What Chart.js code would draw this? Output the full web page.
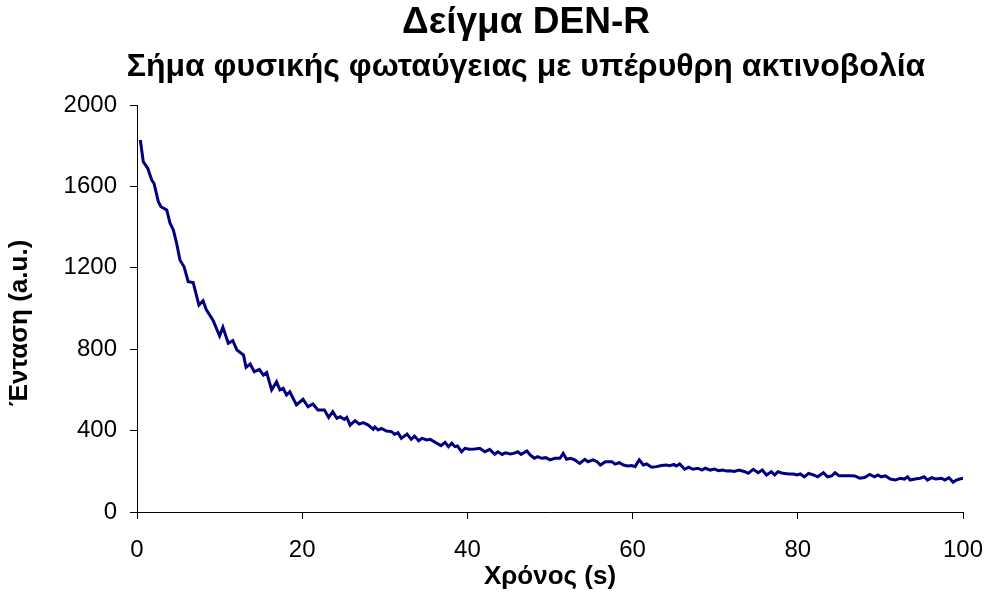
<!DOCTYPE html>
<html>
<head>
<meta charset="utf-8">
<script src="https://cdn.jsdelivr.net/npm/chart.js@4.4.1/dist/chart.umd.min.js"></script>
<style>
  html, body { margin: 0; padding: 0; background: #fff; }
  #wrap { width: 991px; height: 592px; }
</style>
</head>
<body>
<div id="wrap"><canvas id="chart"></canvas></div>
<script>
// Titles and axis labels
const TITLE_LINES = ['Δείγμα DEN-R', 'Σήμα φυσικής φωταύγειας με υπέρυθρη ακτινοβολία'];
const X_LABEL = 'Χρόνος (s)';
const Y_LABEL = 'Ένταση (a.u.)\u00a0\u00a0\u00a0\u00a0';

// Tick settings
const X_TICKS = [0, 20, 40, 60, 80, 100];
const Y_TICKS = [0, 400, 800, 1200, 1600, 2000];

// Time (s)
const times = [
  0.4, 0.76, 1.3, 1.78, 2.06, 2.58, 2.9, 3.6, 4.0, 4.4, 4.8, 5.2, 5.7, 6.2, 6.8, 7.5, 8.0, 8.4, 9.2, 10.0,
  10.4, 11.05, 11.6, 12.1, 12.9, 13.2, 13.7, 14.2, 14.8, 15.3, 15.7, 16.3, 16.9, 17.3, 17.7, 18.1, 18.5, 19.3, 20.1, 20.7,
  21.3, 21.9, 22.7, 23.2, 23.7, 24.2, 24.6, 25.1, 25.4, 25.8, 26.4, 26.9, 27.4, 28.0, 28.6, 28.8, 29.2, 29.6, 30.2, 30.8,
  31.2, 31.6, 32.0, 32.7, 33.2, 33.6, 34.1, 34.5, 35.1, 35.5, 36.3, 36.8, 37.3, 37.7, 38.1, 38.5, 38.8, 39.3, 39.7, 40.2,
  40.9, 41.5, 42.1, 42.7, 43.3, 43.7, 44.2, 44.6, 45.2, 45.6, 46.1, 46.5, 47.2, 47.6, 48.1, 48.5, 49.0, 49.5, 50.0, 50.6,
  51.2, 51.6, 52.0, 52.5, 53.0, 53.6, 54.2, 54.6, 55.2, 55.7, 56.1, 56.7, 57.5, 57.9, 58.4, 58.9, 59.4, 59.9, 60.3, 60.8,
  61.3, 61.7, 62.3, 62.9, 63.5, 64.1, 64.5, 65.0, 65.3, 65.7, 66.3, 66.8, 67.3, 67.9, 68.4, 68.8, 69.4, 69.9, 70.4, 70.9,
  71.4, 71.8, 72.3, 72.9, 73.6, 74.0, 74.6, 75.2, 75.7, 76.2, 76.8, 77.2, 77.6, 78.2, 78.9, 79.5, 79.9, 80.3, 80.8, 81.3,
  81.9, 82.4, 83.1, 83.6, 84.1, 84.5, 85.0, 85.7, 86.5, 86.9, 87.5, 88.1, 88.7, 89.3, 89.7, 90.1, 90.6, 91.2, 91.8, 92.4,
  92.9, 93.3, 93.6, 94.2, 94.8, 95.3, 95.7, 96.2, 96.7, 97.4, 97.8, 98.3, 98.8, 99.2, 99.6, 100.0
];

// Intensity (a.u.)
const intensity = [
  1828, 1721, 1689, 1631, 1615, 1525, 1500, 1484, 1419, 1386, 1320, 1238, 1205, 1132, 1127, 1017, 1038, 993, 943, 865,
  908, 829, 842, 796, 771, 711, 727, 689, 701, 673, 685, 600, 640, 600, 608, 575, 591, 526, 554, 517,
  531, 501, 501, 465, 493, 460, 468, 455, 465, 427, 449, 432, 439, 427, 406, 418, 403, 411, 398, 395,
  382, 390, 362, 383, 357, 373, 350, 362, 354, 357, 338, 326, 342, 321, 338, 321, 324, 296, 313, 308,
  310, 313, 296, 308, 284, 296, 283, 291, 285, 288, 296, 283, 300, 280, 264, 272, 264, 267, 256, 264,
  264, 288, 259, 264, 256, 239, 259, 247, 256, 247, 231, 247, 247, 235, 242, 231, 226, 228, 223, 256,
  231, 236, 220, 223, 228, 231, 228, 234, 226, 236, 210, 220, 210, 215, 206, 215, 206, 211, 203, 206,
  201, 203, 199, 206, 198, 190, 210, 193, 206, 182, 198, 182, 198, 190, 187, 187, 182, 187, 173, 190,
  182, 173, 193, 173, 177, 193, 178, 178, 178, 177, 166, 169, 185, 173, 182, 173, 178, 162, 157, 166,
  162, 173, 157, 162, 166, 173, 157, 169, 162, 166, 157, 169, 146, 157, 162, 166
];

const FONT = "'Liberation Sans', Arial, Helvetica, sans-serif";

// Title drawn as two centred lines above the plot
const titlePlugin = {
  id: 'twoLineTitle',
  afterDraw(chart) {
    const ctx = chart.ctx;
    ctx.save();
    ctx.fillStyle = '#000';
    ctx.textAlign = 'center';
    ctx.textBaseline = 'middle';
    ctx.font = 'bold 37px ' + FONT;
    ctx.fillText(TITLE_LINES[0], 526, 23);
    ctx.font = 'bold 32px ' + FONT;
    ctx.fillText(TITLE_LINES[1], 526, 67);
    ctx.restore();
  }
};

const points = times.map((t, i) => ({ x: t, y: intensity[i] }));

new Chart(document.getElementById('chart'), {
  type: 'line',
  data: {
    datasets: [{
      data: points,
      borderColor: '#000080',
      borderWidth: 3,
      pointRadius: 0,
      tension: 0,
      fill: false
    }]
  },
  options: {
    responsive: true,
    maintainAspectRatio: false,
    animation: false,
    layout: { padding: { top: 105, right: 28, left: 0, bottom: 0 } },
    plugins: {
      legend: { display: false },
      tooltip: { enabled: false }
    },
    scales: {
      x: {
        type: 'linear',
        min: 0,
        max: 100,
        afterBuildTicks: axis => { axis.ticks = X_TICKS.map(v => ({ value: v })); },
        afterFit: axis => { axis.height = 80; axis.paddingRight = 0; axis.paddingLeft = 0; },
        border: { color: '#000', width: 1 },
        grid: { drawOnChartArea: false, tickLength: 7, tickColor: '#000' },
        ticks: { color: '#000', font: { family: FONT, size: 24 }, padding: 17, maxRotation: 0, callback: v => String(v) },
        title: { display: true, text: X_LABEL, color: '#000', font: { family: FONT, size: 26, weight: 'bold' }, padding: { top: 0, bottom: 0 } }
      },
      y: {
        min: 0,
        max: 2000,
        afterBuildTicks: axis => { axis.ticks = Y_TICKS.map(v => ({ value: v })); },
        afterFit: axis => { axis.width = 137; },
        border: { color: '#000', width: 1 },
        grid: { drawOnChartArea: false, tickLength: 7, tickColor: '#000' },
        ticks: { color: '#000', font: { family: FONT, size: 24 }, padding: 13, callback: v => String(v) },
        title: { display: true, text: Y_LABEL, color: '#000', font: { family: FONT, size: 26, weight: 'bold' }, padding: { top: 4, bottom: 0 } }
      }
    }
  },
  plugins: [titlePlugin]
});
</script>
</body>
</html>
